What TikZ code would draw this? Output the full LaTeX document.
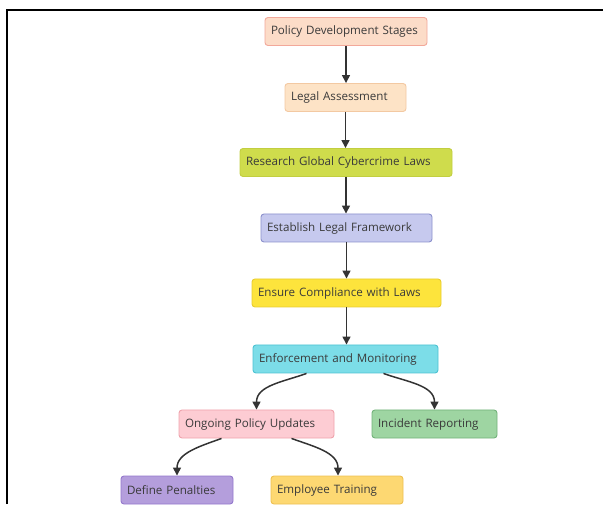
\documentclass[tikz,border=0pt]{standalone}
\usepackage{fontspec}
\setmainfont{Open Sans}
\usetikzlibrary{arrows.meta}
\definecolor{tx}{HTML}{3A3A3A}
\definecolor{ar}{HTML}{333333}
\definecolor{f1}{HTML}{FCDCC8}\definecolor{d1}{HTML}{F2A89A}
\definecolor{f2}{HTML}{FDE3C6}\definecolor{d2}{HTML}{F3C9A2}
\definecolor{f3}{HTML}{CFDC4C}\definecolor{d3}{HTML}{C2CE40}
\definecolor{f4}{HTML}{C6C9EE}\definecolor{d4}{HTML}{8C91CC}
\definecolor{f5}{HTML}{FDE43C}\definecolor{d5}{HTML}{E8CC30}
\definecolor{f6}{HTML}{7CDDE8}\definecolor{d6}{HTML}{4CC2D2}
\definecolor{f7}{HTML}{FDCCD3}\definecolor{d7}{HTML}{EFA3AC}
\definecolor{f8}{HTML}{9ED5A2}\definecolor{d8}{HTML}{72B27A}
\definecolor{f9}{HTML}{B49EDC}\definecolor{d9}{HTML}{9478CC}
\definecolor{f10}{HTML}{FDD872}\definecolor{d10}{HTML}{EEC052}
\tikzset{
  box/.style 2 args={draw=d#1, fill=f#1, line width=0.9pt, rounded corners=3pt,
    text=tx, font=\fontsize{11.6}{13}\selectfont, inner xsep=6pt, inner ysep=0pt,
    minimum height=28pt, text width=#2-12pt, align=left},
  arr/.style={draw=ar, line width=1.5pt, -{Triangle[length=8pt,width=8pt]}},
}
\begin{document}
\begin{tikzpicture}[x=1pt,y=1pt]
\useasboundingbox (0,0) rectangle (603,504);
\draw[line width=2pt] (7,0) -- (7,493.5) -- (603,493.5);
\node[box={1}{162pt}] (pds) at (346,472.5) {Policy Development Stages};
\node[box={2}{121pt}] (la) at (345.5,406.5) {Legal Assessment};
\node[box={3}{212pt}] (rg) at (346,341.5) {Research Global Cybercrime Laws};
\node[box={4}{171pt}] (elf) at (346.5,276) {Establish Legal Framework};
\node[box={5}{189pt}] (ec) at (346.5,211) {Ensure Compliance with Laws};
\node[box={6}{185pt}] (enf) at (345.5,145) {Enforcement and Monitoring};
\node[box={7}{155pt}] (opu) at (256.5,80) {Ongoing Policy Updates};
\node[box={8}{125pt}] (ir) at (434.5,80) {Incident Reporting};
\node[box={9}{112pt}] (dp) at (177,14) {Define Penalties};
\node[box={10}{132pt}] (et) at (337,14) {Employee Training};
\draw[arr] (pds.south) -- (pds.south |- la.north);
\draw[arr] (la.south) -- (la.south |- rg.north);
\draw[arr] (rg.south) -- (rg.south |- elf.north);
\draw[arr] (elf.south) -- (elf.south |- ec.north);
\draw[arr] (ec.south) -- (ec.south |- enf.north);
\draw[arr] ([xshift=-39pt]enf.south) to[out=200,in=90] (opu.north);
\draw[arr] ([xshift=38pt]enf.south) to[out=-20,in=90] (ir.north);
\draw[arr] ([xshift=-35pt]opu.south) to[out=200,in=90] (dp.north);
\draw[arr] ([xshift=35pt]opu.south) to[out=-20,in=90] ([xshift=1pt]et.north);
\end{tikzpicture}
\end{document}
